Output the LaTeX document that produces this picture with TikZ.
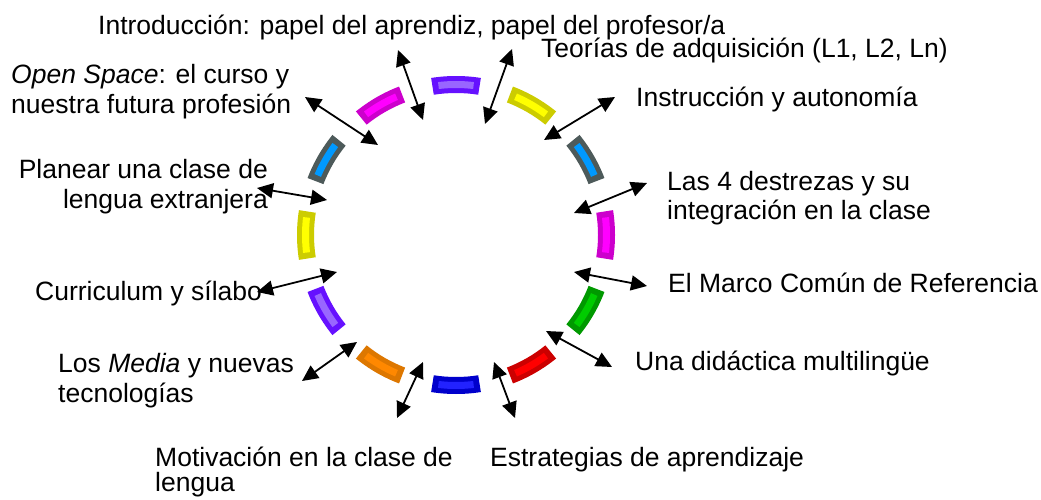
\documentclass[tikz,border=0pt]{standalone}
\usepackage{fontspec}
\setmainfont{Liberation Sans}
\usetikzlibrary{arrows.meta}
\definecolor{purD}{HTML}{6611FF}\definecolor{purL}{HTML}{9966FF}
\definecolor{yelD}{HTML}{CCCC00}\definecolor{yelL}{HTML}{FFFF00}
\definecolor{gryD}{HTML}{4D5A5A}\definecolor{cyaL}{HTML}{0099FF}
\definecolor{magD}{HTML}{CC00CC}\definecolor{magL}{HTML}{FF00FF}
\definecolor{grnD}{HTML}{009900}\definecolor{grnL}{HTML}{00CC00}
\definecolor{redD}{HTML}{CC0000}\definecolor{redL}{HTML}{FF0000}
\definecolor{bluD}{HTML}{0000CC}\definecolor{bluL}{HTML}{2222FF}
\definecolor{orgD}{HTML}{DD7700}\definecolor{orgL}{HTML}{FF8800}
\newcommand{\ringseg}[3]{%
  \fill[#2] (#1-9:159) arc[start angle=#1-9, end angle=#1+9, radius=159]
    -- (#1+9:142) arc[start angle=#1+9, end angle=#1-9, radius=142] -- cycle;
  \fill[#3] (#1-6.7:154) arc[start angle=#1-6.7, end angle=#1+6.7, radius=154]
    -- (#1+6.7:147) arc[start angle=#1+6.7, end angle=#1-6.7, radius=147] -- cycle;}
\begin{document}
\begin{tikzpicture}[x=1pt,y=-1pt,
  lbl/.style={font=\fontsize{26.5}{30}\selectfont, inner sep=0pt, anchor=base west},
  lblr/.style={lbl, anchor=base east},
  dbl/.style={line width=1.8pt, {Triangle[length=16pt,width=15pt]}-{Triangle[length=16pt,width=15pt]}}]
\useasboundingbox[fill=white] (0,0) rectangle (1041,500);
% ring
\begin{scope}[shift={(456,235)}]
  \ringseg{-90}{purD}{purL}
  \ringseg{-60}{yelD}{yelL}
  \ringseg{-30}{gryD}{cyaL}
  \ringseg{0}{magD}{magL}
  \ringseg{30}{grnD}{grnL}
  \ringseg{60}{redD}{redL}
  \ringseg{90}{bluD}{bluL}
  \ringseg{120}{orgD}{orgL}
  \ringseg{150}{purD}{purL}
  \ringseg{180}{yelD}{yelL}
  \ringseg{210}{gryD}{cyaL}
  \ringseg{240}{magD}{magL}
\end{scope}
% labels
\node[lbl] (intro) at (98,35) {Introducción: papel del aprendiz, papel del profesor/a};
\node[lbl] (teor) at (541,58) {Teorías de adquisición (L1, L2, Ln)};
\node[lbl] (instr) at (636,107) {Instrucción y autonomía};
\node[lbl] (destA) at (667,190) {Las 4 destrezas y su};
\node[lbl] (destB) at (667,219) {integración en la clase};
\node[lbl] (marco) at (668,292) {El Marco Común de Referencia};
\node[lbl] (didac) at (635,370) {Una didáctica multilingüe};
\node[lbl] (estr) at (490,466) {Estrategias de aprendizaje};
\node[lbl] (motA) at (155,466) {Motivación en la clase de};
\node[lbl] (motB) at (155,491) {lengua};
\node[lbl] (medA) at (58,372) {Los \textit{Media} y nuevas};
\node[lbl] (medB) at (58,402) {tecnologías};
\node[lbl] (curr) at (35,300) {Curriculum y sílabo};
\node[lblr] (planA) at (268,178) {Planear una clase de};
\node[lblr] (planB) at (268,208) {lengua extranjera};
\node[lbl] (openA) at (11,84) {\textit{Open Space}: el curso y};
\node[lbl] (openB) at (11,114) {nuestra futura profesión};
% arrow end points
\coordinate (i1) at (423,120); \coordinate (o1) at (398,50);
\coordinate (i2) at (485,124); \coordinate (o2) at (512,49);
\coordinate (i3) at (544,140); \coordinate (o3) at (615,97);
\coordinate (i4) at (574,213); \coordinate (o4) at (647,183);
\coordinate (i5) at (574,272); \coordinate (o5) at (647,286);
\coordinate (i6) at (546,331); \coordinate (o6) at (612,367);
\coordinate (i7) at (494,362); \coordinate (o7) at (515,418);
\coordinate (i8) at (423,362); \coordinate (o8) at (397,418);
\coordinate (i9) at (357,342); \coordinate (o9) at (302,381);
\coordinate (i10) at (337,272); \coordinate (o10) at (257,292);
\coordinate (i11) at (327,200); \coordinate (o11) at (257,188);
\coordinate (i12) at (378,145); \coordinate (o12) at (305,97);
\foreach \k in {1,...,12} {\draw[dbl] (i\k) -- (o\k);}
\end{tikzpicture}
\end{document}
